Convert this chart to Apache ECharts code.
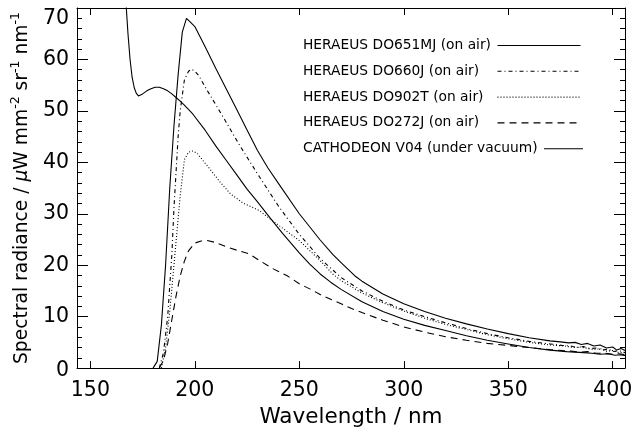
<!DOCTYPE html>
<html><head><meta charset="utf-8">
<script src="https://cdn.jsdelivr.net/npm/echarts@6/dist/echarts.min.js"></script>
<style>html,body{margin:0;padding:0;background:#fff}#c{width:640px;height:433px}</style>
</head><body><div id="c"></div>
<script>
// ---- data ----
const xTicks = [150, 200, 250, 300, 350, 400];
const seriesNames = ['HERAEUS DO651MJ (on air)', 'HERAEUS DO660J (on air)', 'HERAEUS DO902T (on air)', 'HERAEUS DO272J (on air)', 'CATHODEON V04 (under vacuum)'];

const wl651 = [180, 182, 184, 186, 188, 190, 192, 194, 196, 198, 200, 205, 210, 215, 220, 225, 230, 235, 240, 250, 260, 266, 270, 277, 280, 290, 300, 310, 320, 330, 340, 350, 360, 370, 375, 379, 382, 385, 388, 391, 394, 397, 400, 402, 404, 406];
const v651  = [0, 1.3, 8.4, 20, 35, 47, 57, 65.3, 68, 67.2, 66.4, 62.4, 58.3, 54.3, 50.3, 46.3, 42.3, 38.9, 35.9, 30.0, 24.9, 22.1, 20.5, 17.8, 16.9, 14.4, 12.5, 11.0, 9.7, 8.6, 7.6, 6.7, 5.9, 5.3, 5.1, 4.9, 5.0, 4.6, 4.8, 4.3, 4.5, 3.9, 4.1, 3.5, 3.8, 3.4];

const wl660 = [183, 185, 187, 189, 190, 191, 192, 193, 195, 197, 198.5, 200, 202, 205, 209, 215, 221, 229, 240, 250, 260, 270, 280, 290, 300, 310, 320, 330, 340, 350, 360, 370, 376, 380, 383, 386, 389, 392, 395, 398, 400, 403, 406];
const v660  = [0, 3, 10, 22, 31, 38, 45, 50, 56, 57.7, 58.1, 57.7, 56.8, 54.6, 51.9, 47.8, 43.6, 38.4, 31.5, 26, 21.3, 17.6, 15, 13, 11.3, 10, 8.8, 7.7, 6.7, 5.9, 5.2, 4.7, 4.4, 4.3, 4.0, 4.2, 3.8, 3.9, 3.5, 3.7, 3.2, 3.4, 3.0];

const wl902 = [184, 186, 188, 190, 192, 193, 195, 197, 199, 201, 203, 205, 207, 212, 217, 223, 231, 236, 242, 250, 260, 266, 270, 280, 290, 300, 310, 320, 330, 340, 350, 360, 370, 377, 381, 385, 388, 391, 394, 397, 400, 403, 406];
const v902  = [0, 4, 11, 20, 29, 33.5, 40.5, 42, 42.2, 41.8, 40.8, 39.8, 38.8, 36.2, 33.9, 32.1, 30.6, 29, 27.2, 24.8, 20.9, 18.3, 17.0, 14.6, 12.7, 11.1, 9.7, 8.5, 7.5, 6.5, 5.7, 5.0, 4.5, 4.3, 4.0, 4.1, 3.8, 3.6, 3.8, 3.3, 3.4, 3.0, 3.1];

const wl272 = [183, 185, 187, 189, 191, 193, 195, 197, 200, 203, 206, 210, 215, 221, 226, 231, 237, 244, 250, 255, 260, 265, 270, 275, 280, 290, 300, 310, 320, 330, 340, 350, 360, 370, 376, 380, 384, 388, 392, 396, 400, 403, 406];
const v272  = [0, 1.5, 4.8, 9.4, 14, 17.9, 20.8, 22.8, 24.3, 24.7, 24.8, 24.4, 23.6, 22.8, 22.2, 20.9, 19.4, 18.0, 16.4, 15.4, 14.3, 13.4, 12.5, 11.6, 10.8, 9.3, 8.0, 7.0, 6.1, 5.4, 4.8, 4.4, 4.0, 3.6, 3.4, 3.3, 3.1, 3.2, 2.9, 2.9, 2.7, 2.8, 2.6];

const wlCath = [166, 167.2, 168, 169, 170, 171, 172, 173, 175, 177, 179, 181, 183, 185, 187, 189, 191, 193, 195, 199, 205, 210, 215, 220, 225, 230, 236, 242, 250, 255, 260, 265, 270, 280, 290, 300, 310, 320, 330, 340, 350, 360, 370, 378, 382, 386, 390, 394, 398, 401, 404, 406];
const vCath  = [82, 70, 65, 60, 56.5, 54.5, 53.4, 52.9, 53.3, 53.9, 54.3, 54.6, 54.6, 54.3, 53.9, 53.3, 52.6, 51.9, 51.1, 49.4, 46.2, 43.2, 40.4, 37.6, 34.8, 32.3, 29.2, 26.2, 22.4, 20.2, 18.3, 16.7, 15.3, 12.9, 11.0, 9.5, 8.3, 7.3, 6.3, 5.4, 4.7, 4.0, 3.5, 3.2, 3.1, 3.0, 2.9, 2.7, 2.8, 2.5, 2.6, 2.4];

// ---- chart ----
const FONT = 'DejaVu Sans';
const INK = '#000';
function pairs(xs, ys) { return xs.map((x, i) => [x, ys[i]]); }

const dashes = ['solid', [4, 3, 1, 3], [1, 2], [7, 5], 'solid'];
const dataSets = [pairs(wl651, v651), pairs(wl660, v660), pairs(wl902, v902), pairs(wl272, v272), pairs(wlCath, vCath)];

const series = seriesNames.map((n, i) => ({
  name: n, type: 'line', symbol: 'none', clip: true, data: dataSets[i],
  color: INK,
  lineStyle: { color: INK, width: 1.1, type: dashes[i] }
}));

const XMIN = 143.6, XMAX = 405.9;
const axLine = { show: true, onZero: false, lineStyle: { color: INK, width: 1 } };

const legendCommon = {
  orient: 'vertical', left: 303, padding: 0, align: 'right',
  itemHeight: 14, itemGap: 11.8,
  itemStyle: { opacity: 0 },
  lineStyle: { width: 1.1, color: INK },
  selectedMode: false,
  formatter: n => '{a|' + n + '}'
};

const option = {
  animation: false,
  backgroundColor: '#fff',
  grid: { left: 77, right: 15, top: 8, bottom: 61, containLabel: false },
  legend: [
    Object.assign({}, legendCommon, {
      top: 38.5, itemWidth: 83,
      data: seriesNames.slice(0, 4).map((n, i) => ({ name: n, lineStyle: { type: dashes[i], color: INK, width: 1.1 } })),
      textStyle: { rich: { a: { width: 189.5, align: 'left', fontSize: 13.8, lineHeight: 14, fontFamily: FONT, color: INK } } }
    }),
    Object.assign({}, legendCommon, {
      top: 38.5 + 4 * 25.8, itemWidth: 39,
      data: [{ name: seriesNames[4], lineStyle: { type: 'solid', color: INK, width: 1.1 } }],
      textStyle: { rich: { a: { width: 236, align: 'left', fontSize: 13.8, lineHeight: 14, fontFamily: FONT, color: INK } } }
    })
  ],
  xAxis: [
    {
      type: 'value', position: 'bottom', min: XMIN, max: XMAX,
      axisLine: axLine,
      axisTick: { show: true, inside: true, length: 7, customValues: xTicks, lineStyle: { color: INK } },
      axisLabel: { customValues: xTicks, fontSize: 20.5, fontFamily: FONT, color: INK, margin: 12 },
      splitLine: { show: false },
      name: 'Wavelength / nm', nameLocation: 'middle', nameGap: 32,
      nameTextStyle: { fontSize: 21.5, fontFamily: FONT, color: INK }
    },
    {
      type: 'value', position: 'top', min: XMIN, max: XMAX,
      axisLine: axLine,
      axisTick: { show: true, inside: true, length: 7, customValues: xTicks, lineStyle: { color: INK } },
      axisLabel: { show: false },
      splitLine: { show: false }
    }
  ],
  yAxis: [
    {
      type: 'value', position: 'left', min: 0, max: 70, interval: 10,
      axisLine: axLine,
      axisTick: { show: true, inside: true, length: 11, lineStyle: { color: INK } },
      minorTick: { show: true, splitNumber: 5, length: 5, lineStyle: { color: INK } },
      axisLabel: {
        fontSize: 20.5, fontFamily: FONT, color: INK, margin: 8,
        verticalAlignMaxLabel: 'top',
        formatter: v => v === 0 ? '{z|0}' : String(v),
        rich: { z: { fontSize: 20.5, fontFamily: FONT, color: INK, padding: [6, 0, 0, 0] } }
      },
      splitLine: { show: false }, minorSplitLine: { show: false },
      name: '{t|Spectral radiance / }{mu|\u03bc}{t|W mm}{s|-2}{t| sr}{s|-1}{t| nm}{s|-1}',
      nameLocation: 'middle', nameGap: 42,
      nameTextStyle: {
        fontSize: 18.7, fontFamily: FONT, color: INK,
        rich: {
          t: { fontSize: 18.7, fontFamily: FONT, color: INK, lineHeight: 26 },
          mu: { fontSize: 18.7, fontFamily: FONT, color: INK, fontStyle: 'italic', lineHeight: 26 },
          s: { fontSize: 12.5, fontFamily: FONT, color: INK, lineHeight: 12, verticalAlign: 'top' }
        }
      }
    },
    {
      type: 'value', position: 'right', min: 0, max: 70, interval: 10,
      axisLine: axLine,
      axisTick: { show: true, inside: true, length: 11, lineStyle: { color: INK } },
      minorTick: { show: true, splitNumber: 5, length: 5, lineStyle: { color: INK } },
      axisLabel: { show: false },
      splitLine: { show: false }, minorSplitLine: { show: false }
    }
  ],
  series: series
};

const chart = echarts.init(document.getElementById('c'), null, { renderer: 'canvas' });
chart.setOption(option);
</script>
</body></html>
